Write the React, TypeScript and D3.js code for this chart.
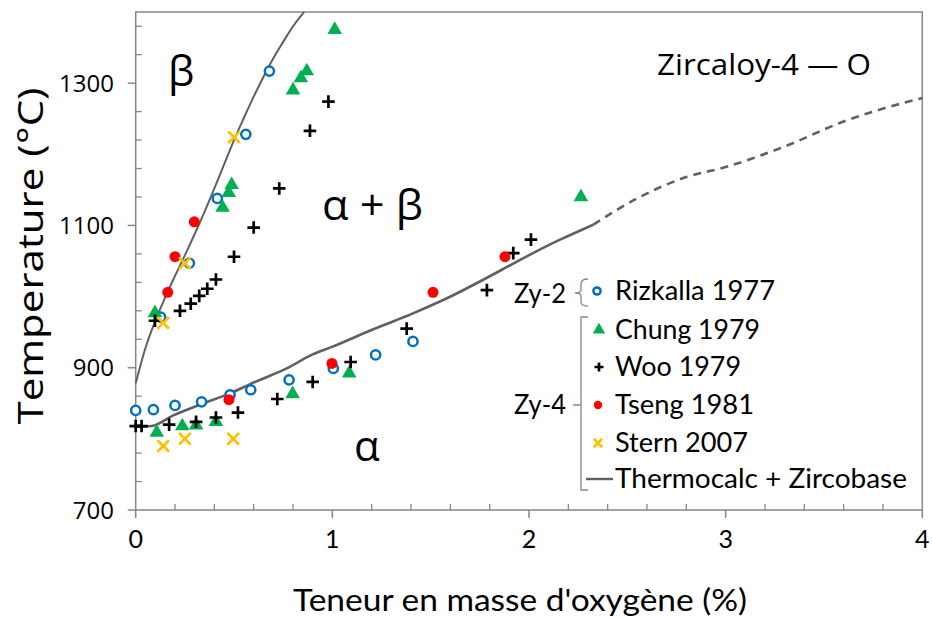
import React from "react";
import * as d3 from "d3";

// ---- Data (x: wt% O, y: °C) ----
const rizkalla: [number, number][] = [
  [0.0, 840], [0.09, 841], [0.2, 847], [0.335, 852], [0.48, 862], [0.585, 869],
  [0.78, 883], [1.005, 899], [1.22, 918], [1.41, 937],
  [0.127, 971], [0.273, 1047], [0.415, 1138], [0.56, 1228], [0.68, 1317],
];
const chung: [number, number][] = [
  [0.098, 977], [0.442, 1125], [0.473, 1146], [0.488, 1157], [0.8, 1290],
  [0.84, 1307], [0.87, 1317], [1.012, 1375], [2.264, 1140],
  [0.107, 809], [0.237, 818], [0.307, 819], [0.408, 824], [0.798, 863], [1.086, 892],
];
const woo: [number, number][] = [
  [0.098, 966], [0.225, 980], [0.28, 990], [0.323, 1001], [0.364, 1011], [0.408, 1024],
  [0.5, 1056], [0.6, 1097], [0.73, 1152], [0.886, 1233], [0.98, 1274],
  [0.0, 818], [0.03, 818], [0.17, 820], [0.307, 824], [0.408, 830], [0.52, 837],
  [0.72, 856], [0.9, 880], [1.093, 908], [1.378, 955], [1.786, 1009], [1.92, 1061], [2.01, 1080],
];
const tseng: [number, number][] = [
  [0.163, 1006], [0.2, 1056], [0.298, 1105],
  [0.474, 855], [0.998, 906], [1.512, 1006], [1.878, 1056],
];
const stern: [number, number][] = [
  [0.14, 963], [0.25, 1047], [0.5, 1224],
  [0.14, 790], [0.25, 800], [0.496, 800],
];
const calcUpper: [number, number][] = [
  [0, 878], [0.05, 928], [0.1, 966], [0.15, 999], [0.2, 1029], [0.25, 1058],
  [0.3, 1088], [0.35, 1119], [0.4, 1152], [0.45, 1186], [0.5, 1220], [0.55, 1251],
  [0.6, 1281], [0.65, 1309], [0.7, 1335], [0.75, 1358], [0.8, 1380], [0.856, 1400],
];
const calcLower: [number, number][] = [
  [0, 817], [0.081, 818], [0.191, 833], [0.336, 849], [0.48, 864], [0.598, 879],
  [0.768, 899], [0.895, 918], [1.005, 930], [1.208, 954], [1.407, 976], [1.547, 993],
  [2.158, 1080], [2.327, 1101],
];
const calcExtrap: [number, number][] = [
  [2.327, 1101], [2.55, 1138], [2.8, 1168], [3.0, 1182], [3.3, 1211], [3.6, 1246],
  [3.75, 1260], [4.0, 1279],
];
const xTicks = [0, 1, 2, 3, 4];
const yTicks = [700, 900, 1100, 1300];

const legendItems = ["Rizkalla 1977", "Chung 1979", "Woo 1979", "Tseng 1981", "Stern 2007", "Thermocalc + Zircobase"];
const legendWidths = [160, 145, 126, 139, 133, 292];

const BLUE = "#0070C0";
const GREEN = "#00B050";
const RED = "#FF0000";
const YELLOW = "#FFC000";
const LINE = "#606060";
const AXIS = "#868686";

const x = d3.scaleLinear().domain([0, 4]).range([135.7, 922.3]);
const y = d3.scaleLinear().domain([700, 1400]).range([510, 12]);

const tri = d3.symbol().type(d3.symbolTriangle).size(92)() as string;
const triSmall = d3.symbol().type(d3.symbolTriangle).size(66)() as string;

function Circle({ cx, cy, r = 4.6 }: { cx: number; cy: number; r?: number }) {
  return <circle cx={cx} cy={cy} r={r} fill="white" stroke={BLUE} strokeWidth={2.5} />;
}
function Tri({ cx, cy, d = tri }: { cx: number; cy: number; d?: string }) {
  return <path d={d} transform={`translate(${cx},${cy})`} fill={GREEN} />;
}
function Plus({ cx, cy, s = 6.3 }: { cx: number; cy: number; s?: number }) {
  return <path d={`M${cx - s},${cy}H${cx + s}M${cx},${cy - s}V${cy + s}`} stroke="black" strokeWidth={2.7} />;
}
function Dot({ cx, cy, r = 5.5 }: { cx: number; cy: number; r?: number }) {
  return <circle cx={cx} cy={cy} r={r} fill={RED} />;
}
function Cross({ cx, cy, s = 5.8 }: { cx: number; cy: number; s?: number }) {
  return (
    <path
      d={`M${cx - s},${cy - s}L${cx + s},${cy + s}M${cx - s},${cy + s}L${cx + s},${cy - s}`}
      stroke={YELLOW}
      strokeWidth={2.7}
    />
  );
}

export default function App() {
  const line = d3
    .line<[number, number]>()
    .x((d) => x(d[0]))
    .y((d) => y(d[1]))
    .curve(d3.curveMonotoneX);

  const xMinor = d3.range(0, 4.0001, 0.2).filter((v) => Math.abs(v - Math.round(v)) > 1e-6);
  const yMinor = d3.range(700, 1400.1, 40).filter((v) => (v - 700) % 200 !== 0);

  const x0 = x(0), x1 = x(4), y0 = y(700), y1 = y(1400);
  const fontLegend = "Lato, 'Open Sans', sans-serif";
  const fontMain = "'Open Sans', 'Noto Sans', sans-serif";

  const legRows = [291, 330, 367, 405, 443, 479];

  return (
    <svg
      width={932}
      height={618}
      style={{ position: "absolute", left: 0, top: 0, background: "white" }}
    >
      <rect x={0} y={0} width={932} height={618} fill="white" />
      {/* plot frame */}
      <rect x={x0} y={y1} width={x1 - x0} height={y0 - y1} fill="none" stroke={AXIS} strokeWidth={1.5} />

      {/* y ticks */}
      {yTicks.map((t) => (
        <g key={"yt" + t}>
          <line x1={x0 - 8} x2={x0} y1={y(t)} y2={y(t)} stroke={AXIS} strokeWidth={1.5} />
          <text x={114} y={y(t) + 8.5} textAnchor="end" fontFamily={fontMain} fontSize={24} fill="#000">
            {t}
          </text>
        </g>
      ))}
      {yMinor.map((t) => (
        <line key={"ym" + t} x1={x0} x2={x0 + 6} y1={y(t)} y2={y(t)} stroke={AXIS} strokeWidth={1.3} />
      ))}

      {/* x ticks */}
      {xTicks.map((t) => (
        <g key={"xt" + t}>
          <line x1={x(t)} x2={x(t)} y1={y0} y2={y0 + 8} stroke={AXIS} strokeWidth={1.5} />
          <text x={x(t)} y={548} textAnchor="middle" fontFamily={fontLegend} fontSize={25} fill="#000">
            {t}
          </text>
        </g>
      ))}
      {xMinor.map((t) => (
        <line key={"xm" + t} x1={x(t)} x2={x(t)} y1={y0} y2={y0 - 6} stroke={AXIS} strokeWidth={1.3} />
      ))}

      {/* axis titles */}
      <text
        x={520}
        y={611}
        textAnchor="middle"
        fontFamily={fontLegend}
        fontSize={31}
        textLength={454}
        lengthAdjust="spacingAndGlyphs"
        fill="#000"
      >
        Teneur en masse d'oxygène (%)
      </text>
      <text
        transform="translate(43,256) rotate(-90)"
        textAnchor="middle"
        fontFamily={fontMain}
        fontSize={35}
        textLength={337}
        lengthAdjust="spacingAndGlyphs"
        fill="#000"
      >
        Temperature (°C)
      </text>

      {/* phase labels & title */}
      <text x={168} y={86} fontFamily={fontMain} fontSize={42} fill="#000">β</text>
      <text x={322} y={220} fontFamily={fontMain} fontSize={42} textLength={101} lengthAdjust="spacingAndGlyphs" fill="#000">
        α + β
      </text>
      <text x={354} y={461} fontFamily={fontMain} fontSize={42} fill="#000">α</text>
      <text x={657} y={75} fontFamily={fontMain} fontSize={30} textLength={214} lengthAdjust="spacingAndGlyphs" fill="#000">
        Zircaloy-4 — O
      </text>

      {/* calc lines */}
      <path d={line(calcUpper) || ""} fill="none" stroke={LINE} strokeWidth={2} />
      <path d={line(calcLower) || ""} fill="none" stroke={LINE} strokeWidth={2.6} />
      <path d={line(calcExtrap) || ""} fill="none" stroke={LINE} strokeWidth={2.6} strokeDasharray="8,6" />

      {/* data */}
      {rizkalla.map((d, i) => <Circle key={"r" + i} cx={x(d[0])} cy={y(d[1])} />)}
      {chung.map((d, i) => <Tri key={"c" + i} cx={x(d[0])} cy={y(d[1])} />)}
      {woo.map((d, i) => <Plus key={"w" + i} cx={x(d[0])} cy={y(d[1])} />)}
      {tseng.map((d, i) => <Dot key={"t" + i} cx={x(d[0])} cy={y(d[1])} />)}
      {stern.map((d, i) => <Cross key={"s" + i} cx={x(d[0])} cy={y(d[1])} />)}

      {/* legend */}
      <Circle cx={597} cy={legRows[0]} r={3.6} />
      <Tri cx={599} cy={legRows[1]} d={triSmall} />
      <Plus cx={599} cy={legRows[2]} s={4.5} />
      <Dot cx={598} cy={legRows[3]} r={4.2} />
      <Cross cx={598} cy={legRows[4]} s={4.2} />
      <line x1={586} x2={613} y1={legRows[5]} y2={legRows[5]} stroke={LINE} strokeWidth={2.4} />
      {legendItems.map((t, i) => (
        <text
          key={t}
          x={615}
          y={legRows[i] + 8.5}
          fontFamily={fontLegend}
          fontSize={26}
          textLength={legendWidths[i]}
          lengthAdjust="spacingAndGlyphs"
          fill="#000"
        >
          {t}
        </text>
      ))}
      {/* brackets */}
      <path
        d="M588,279 Q581,279 581,284 V290 Q581,293 575,293 Q581,293 581,296 V302 Q581,306 588,306"
        fill="none"
        stroke={AXIS}
        strokeWidth={1.3}
      />
      <path d="M588,317 H581 V490 H588 M581,405 H573" fill="none" stroke={AXIS} strokeWidth={1.3} />
      <text x={514} y={303} fontFamily={fontLegend} fontSize={26} textLength={52} lengthAdjust="spacingAndGlyphs" fill="#000">
        Zy-2
      </text>
      <text x={514} y={414} fontFamily={fontLegend} fontSize={26} textLength={52} lengthAdjust="spacingAndGlyphs" fill="#000">
        Zy-4
      </text>
    </svg>
  );
}
